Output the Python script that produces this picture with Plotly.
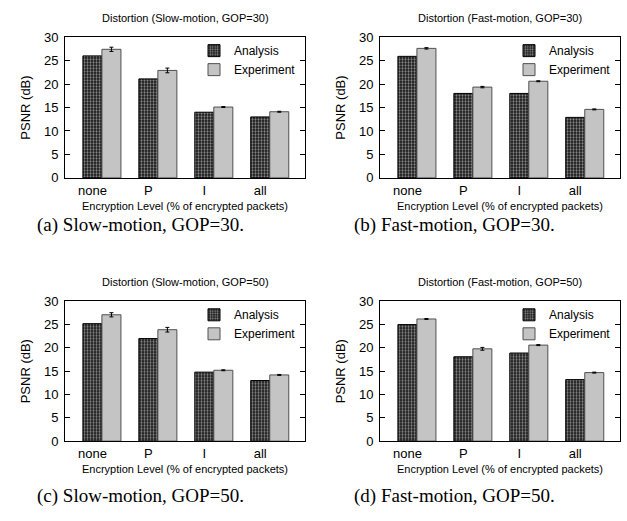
import plotly.graph_objects as go
import numpy as np

categories = ["none", "P", "I", "all"]

titles = [
    "Distortion (Slow-motion, GOP=30)",
    "Distortion (Fast-motion, GOP=30)",
    "Distortion (Slow-motion, GOP=50)",
    "Distortion (Fast-motion, GOP=50)",
]
captions = [
    "(a) Slow-motion, GOP=30.",
    "(b) Fast-motion, GOP=30.",
    "(c) Slow-motion, GOP=50.",
    "(d) Fast-motion, GOP=50.",
]

analysis_a = [26.0, 21.1, 14.0, 13.0]
experiment_a = [27.4, 22.9, 15.1, 14.1]
err_a = [0.45, 0.5, 0.1, 0.1]

analysis_b = [25.9, 18.0, 18.0, 12.9]
experiment_b = [27.6, 19.35, 20.6, 14.6]
err_b = [0.15, 0.15, 0.1, 0.1]

analysis_c = [25.2, 22.0, 14.8, 13.0]
experiment_c = [27.1, 23.9, 15.2, 14.2]
err_c = [0.45, 0.5, 0.1, 0.1]

analysis_d = [25.0, 18.1, 18.9, 13.2]
experiment_d = [26.2, 19.8, 20.6, 14.7]
err_d = [0.1, 0.3, 0.1, 0.1]

panels = [
    (analysis_a, experiment_a, err_a),
    (analysis_b, experiment_b, err_b),
    (analysis_c, experiment_c, err_c),
    (analysis_d, experiment_d, err_d),
]

W, H = 627, 521


def px_x(p):
    return p / W


def px_y(p):
    return 1 - p / H


# axis pixel boxes (left, right, top, bottom)
boxes = [
    (65, 305, 31, 176),
    (380, 620, 31, 176),
    (65, 305, 303, 447),
    (380, 620, 303, 447),
]

fig = go.Figure()
pos = np.arange(len(categories))
BAR_HALF = 0.17
SANS = "Liberation Sans, Arial, sans-serif"
SERIF = "Liberation Serif, Times New Roman, serif"

annotations = []
for k, ((an, ex, er), (l, r, t, b)) in enumerate(zip(panels, boxes)):
    sfx = "" if k == 0 else str(k + 1)
    xa = "x" + sfx
    ya = "y" + sfx
    lg = "legend" + sfx
    fig.add_trace(go.Bar(
        x=pos, y=an, name="Analysis", xaxis=xa, yaxis=ya, legend=lg,
        offsetgroup="a",
        marker=dict(color="black", line=dict(color="black", width=1),
                    pattern=dict(shape=".", fgcolor="white", bgcolor="#111111",
                                 size=3, solidity=0.45, fillmode="overlay")),
    ))
    fig.add_trace(go.Bar(
        x=pos, y=ex, name="Experiment", xaxis=xa, yaxis=ya, legend=lg,
        offsetgroup="e",
        marker=dict(color="#c4c4c4", line=dict(color="#505050", width=1)),
        error_y=dict(type="data", array=er, visible=True, color="black",
                     thickness=1, width=2),
    ))
    axkey = "xaxis" + sfx
    aykey = "yaxis" + sfx
    fig.layout[axkey] = dict(
        domain=[px_x(l), px_x(r)], anchor=ya,
        range=[-0.66, 3.63],
        tickmode="array", tickvals=list(pos - BAR_HALF), ticktext=categories,
        ticks="", showline=True, mirror=True, linecolor="black", linewidth=1,
        showgrid=False, zeroline=False,
        tickfont=dict(family=SANS, size=13, color="black"),
        title=dict(text="Encryption Level (% of encrypted packets)",
                   font=dict(family=SANS, size=11, color="black"), standoff=5),
    )
    fig.layout[aykey] = dict(
        domain=[px_y(b), px_y(t)], anchor=xa,
        range=[0, 30], dtick=5, tick0=0,
        ticks="inside", ticklen=5, tickcolor="black",
        showline=True, mirror="ticks", linecolor="black", linewidth=1,
        showgrid=False, zeroline=False,
        tickfont=dict(family=SANS, size=13, color="black"),
        ticklabelstandoff=3,
        title=dict(text="PSNR (dB)", font=dict(family=SANS, size=13, color="black"),
                   standoff=10),
    )
    fig.layout[lg] = dict(
        x=px_x(r - 4), y=px_y(t - 1), xanchor="right", yanchor="top",
        bgcolor="rgba(0,0,0,0)", borderwidth=0,
        font=dict(family=SANS, size=12, color="black"),
        tracegroupgap=0, itemwidth=30,
    )
    annotations.append(dict(
        text=titles[k], xref="paper", yref="paper",
        x=px_x((l + r) / 2), y=px_y(t - 20), xanchor="center", yanchor="middle",
        showarrow=False, font=dict(family=SANS, size=11, color="black"),
    ))
    cap_y = 224 if k < 2 else 503
    cap_x = 140 if k % 2 == 0 else 454
    annotations.append(dict(
        text=captions[k], xref="paper", yref="paper",
        x=px_x(cap_x), y=px_y(cap_y), xanchor="center", yanchor="middle",
        showarrow=False, font=dict(family=SERIF, size=19, color="black"),
    ))

fig.update_layout(
    width=W, height=H,
    margin=dict(l=0, r=0, t=0, b=0),
    paper_bgcolor="white", plot_bgcolor="white",
    barmode="group", bargap=0.32, bargroupgap=0,
    annotations=annotations,
    showlegend=True,
)

fig.write_html("out.html")
